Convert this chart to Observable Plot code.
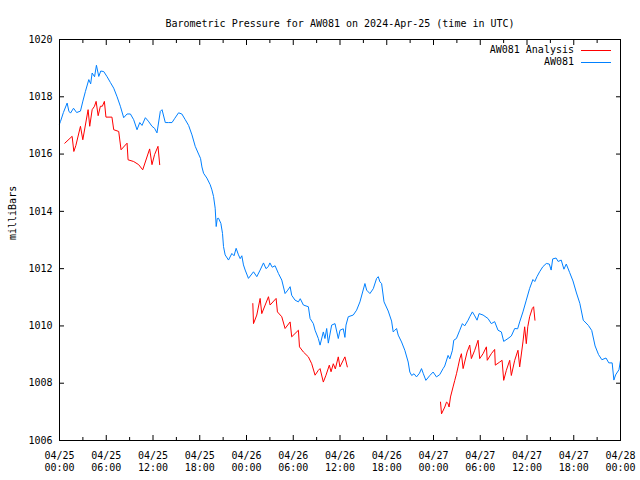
<!DOCTYPE html>
<html><head><meta charset="utf-8">
<script src="https://cdn.jsdelivr.net/npm/d3@7"></script>
<script src="https://cdn.jsdelivr.net/npm/@observablehq/plot@0.6"></script>
<style>
body{margin:0;background:#fff;}
#wrap{position:relative;width:640px;height:480px;font-family:"DejaVu Sans Mono",monospace;font-size:10px;color:#000;}
.lg{position:absolute;right:66px;white-space:pre;line-height:12px;}
.sw{position:absolute;left:581px;width:30px;height:0;border-top:1px solid;}
</style></head><body><div id="wrap"></div>
<script>
const titleText = "Barometric Pressure for AW081 on 2024-Apr-25 (time in UTC)";
const yLabel = "milliBars";
const seriesNames = ["AW081 Analysis", "AW081"];
const seriesColors = ["#ff0000", "#0080ff"];
const startUTC = Date.UTC(2024, 3, 25);
const yTicks = [1006, 1008, 1010, 1012, 1014, 1016, 1018, 1020];
const xMajorHours = [0, 6, 12, 18, 24, 30, 36, 42, 48, 54, 60, 66, 72];
const xMinorHours = [3, 9, 15, 21, 27, 33, 39, 45, 51, 57, 63, 69];

const stationHours = [0.0,0.13,0.5,0.98,1.2,1.41,1.8,2.2,2.69,3.0,3.33,3.76,4.0,4.19,4.5,4.74,5.04,5.3,5.68,6.11,6.53,6.96,7.39,7.81,8.24,8.67,9.1,9.52,9.95,10.3,10.59,11.02,11.4,11.87,12.2,12.51,12.94,13.16,13.58,14.0,14.44,14.8,15.28,15.7,16.14,16.57,17.0,17.42,17.85,18.1,18.28,18.49,18.92,19.34,19.56,19.77,19.98,20.11,20.25,20.41,20.71,20.92,21.05,21.26,21.69,22.12,22.4,22.67,22.97,23.19,23.4,23.61,23.83,24.25,24.9,25.32,25.75,26.18,26.5,26.8,27.0,27.3,27.67,28.1,28.53,28.95,29.3,29.6,29.8,30.23,30.66,30.9,31.3,31.94,32.16,32.58,32.8,33.22,33.44,33.86,34.07,34.29,34.5,34.93,35.36,35.78,36.0,36.42,36.63,36.77,37.06,37.7,38.13,38.56,39.2,39.42,39.84,40.27,40.7,40.91,41.12,41.34,41.65,42.19,42.62,42.83,43.04,43.26,43.47,43.9,44.32,44.75,44.96,45.2,45.5,45.82,46.2,46.46,46.7,47.02,47.53,47.95,48.38,48.8,49.23,49.44,49.87,50.1,50.43,50.6,50.94,51.37,51.71,52.0,52.44,52.65,52.99,53.3,53.59,53.85,54.36,54.99,55.42,55.85,56.28,56.71,57.01,57.56,57.99,58.42,58.8,59.06,59.48,59.91,60.34,60.76,61.0,61.28,61.62,62.04,62.48,62.86,63.1,63.3,63.73,64.0,64.39,64.74,65.04,65.48,65.9,66.35,66.78,67.22,67.87,68.31,68.74,69.18,69.61,70.14,70.5,70.93,71.15,71.37,71.8,72.0];
const stationPressure = [1017.05,1017.14,1017.45,1017.78,1017.5,1017.43,1017.6,1017.45,1017.5,1017.85,1018.19,1018.6,1018.45,1018.83,1018.7,1019.1,1018.71,1018.9,1018.88,1018.7,1018.5,1018.3,1018.0,1017.67,1017.27,1017.4,1017.4,1017.2,1016.85,1017.1,1017.0,1017.27,1017.15,1016.97,1016.9,1016.74,1017.49,1017.55,1017.1,1017.1,1017.1,1017.25,1017.44,1017.4,1017.2,1017.0,1016.67,1016.27,1016.0,1015.85,1015.55,1015.33,1015.16,1014.93,1014.75,1014.52,1014.11,1013.47,1013.75,1013.76,1013.58,1013.23,1012.77,1012.48,1012.3,1012.53,1012.45,1012.71,1012.48,1012.35,1012.45,1012.13,1011.95,1011.66,1011.89,1011.72,1011.95,1012.2,1012.0,1012.07,1012.2,1012.05,1012.1,1011.83,1011.6,1011.13,1011.25,1011.37,1011.07,1010.9,1010.84,1010.95,1010.73,1010.67,1010.26,1010.08,1009.85,1009.56,1009.33,1009.79,1009.56,1009.91,1009.4,1010.03,1010.08,1009.56,1009.85,1009.9,1009.6,1010.03,1010.32,1010.38,1010.55,1010.84,1011.48,1011.25,1011.13,1011.3,1011.66,1011.72,1011.54,1011.48,1010.84,1010.52,1010.17,1009.79,1009.85,1009.91,1009.68,1009.44,1009.15,1008.74,1008.39,1008.27,1008.33,1008.22,1008.35,1008.51,1008.33,1008.1,1008.27,1008.39,1008.22,1008.3,1008.51,1008.6,1008.97,1008.85,1009.15,1009.5,1009.56,1009.85,1010.08,1010.0,1010.2,1010.32,1010.49,1010.35,1010.2,1010.43,1010.38,1010.26,1010.08,1010.15,1009.85,1009.79,1009.46,1009.56,1009.65,1009.91,1009.9,1010.14,1010.49,1010.9,1011.31,1011.62,1011.55,1011.72,1011.89,1012.07,1012.18,1012.16,1011.95,1012.34,1012.37,1012.25,1012.3,1011.98,1012.16,1011.86,1011.57,1011.15,1010.79,1010.2,1010.02,1009.84,1009.3,1009.0,1008.82,1008.88,1008.71,1008.71,1008.11,1008.29,1008.47,1008.8];

const analysisHours = [0.68,1.62,1.84,2.1,2.69,2.99,3.67,3.88,4.19,4.49,4.7,4.96,5.25,5.5,5.76,5.96,6.73,6.96,7.6,7.9,8.67,8.8,9.52,10.16,10.68,11.57,11.87,12.2,12.64,12.86,
24.81,24.9,25.32,25.75,25.96,26.82,27.03,27.8,27.97,28.53,28.95,29.6,29.8,30.66,30.8,31.3,31.94,32.37,32.8,33.22,33.44,33.86,34.2,34.63,34.85,35.14,35.4,35.78,35.99,36.63,36.94,
48.9,49.03,49.45,49.67,49.85,50.0,50.18,50.51,50.73,50.95,51.15,51.37,51.58,51.8,52.31,52.65,52.86,53.29,53.72,53.93,54.36,54.79,54.9,55.42,55.85,55.93,56.5,56.8,57.01,57.35,57.78,57.99,58.42,58.84,59.06,59.48,59.7,59.91,60.1,60.34,60.68,60.85,61.02];
const analysisPressure = [1016.38,1016.62,1016.09,1016.3,1016.97,1016.5,1017.55,1016.97,1017.55,1017.67,1017.84,1017.34,1017.67,1017.67,1017.84,1017.29,1017.29,1016.85,1016.79,1016.15,1016.38,1015.8,1015.74,1015.63,1015.45,1016.18,1015.63,1015.98,1016.27,1015.63,
1010.78,1010.08,1010.38,1010.96,1010.43,1011.02,1010.73,1010.96,1010.49,1010.32,1009.91,1010.14,1009.62,1009.85,1009.27,1009.09,1008.92,1008.68,1008.28,1008.45,1008.51,1008.04,1008.28,1008.63,1008.4,1008.68,1008.5,1008.92,1008.57,1008.92,1008.57,
1007.34,1006.93,1007.17,1007.34,1007.3,1007.17,1007.52,1007.87,1008.1,1008.33,1008.57,1008.85,1009.03,1008.51,1009.09,1009.33,1008.86,1009.15,1009.5,1008.86,1009.03,1009.27,1008.8,1009.03,1009.18,1008.63,1008.74,1008.8,1008.1,1008.45,1008.8,1008.27,1008.8,1009.15,1008.57,1009.44,1009.97,1009.38,1009.97,1010.32,1010.61,1010.67,1010.2];
const analysisRunLengths = [30, 31, 43];

const at = h => new Date(startUTC + h * 3600000);
const station = stationHours.map((h, i) => ({t: at(h), p: stationPressure[i]}));
const runIds = analysisRunLengths.flatMap((n, k) => Array(n).fill(k));
const analysis = analysisHours.map((h, i) => ({t: at(h), p: analysisPressure[i], run: runIds[i]}));
const xMajor = xMajorHours.map(at);
const xMinor = xMinorHours.map(at);
const none = () => "";

const chart = Plot.plot({
  width: 640, height: 480,
  marginLeft: 59, marginRight: 20, marginTop: 39, marginBottom: 40,
  style: {fontFamily: '"DejaVu Sans Mono", monospace', fontSize: "10px", color: "black", background: "white"},
  x: {type: "utc", domain: [at(0), at(72)]},
  y: {domain: [1006, 1020]},
  marks: [
    Plot.axisY(yTicks, {anchor: "left", tickSize: 0, tickPadding: 7, tickFormat: d => String(d), label: null}),
    Plot.axisX(xMajor, {anchor: "bottom", tickSize: 0, tickPadding: 10, tickFormat: d3.utcFormat("%m/%d\n%H:%M"), lineHeight: 1.2, label: null}),
    Plot.axisY(yTicks, {anchor: "left", tickSize: 5, dx: 5, tickFormat: none, label: null}),
    Plot.axisY(yTicks, {anchor: "right", tickSize: 5, dx: -5, tickFormat: none, label: null}),
    Plot.axisX(xMajor, {anchor: "bottom", tickSize: 5, dy: -5, tickFormat: none, label: null}),
    Plot.axisX(xMinor, {anchor: "bottom", tickSize: 3, dy: -3, tickFormat: none, label: null}),
    Plot.axisX(xMajor, {anchor: "top", tickSize: 5, dy: 5, tickFormat: none, label: null}),
    Plot.axisX(xMinor, {anchor: "top", tickSize: 3, dy: 3, tickFormat: none, label: null}),
    Plot.line(station, {x: "t", y: "p", stroke: seriesColors[1], strokeWidth: 1}),
    Plot.line(analysis, {x: "t", y: "p", z: "run", stroke: seriesColors[0], strokeWidth: 1}),
    Plot.frame({stroke: "black"}),
    Plot.text([titleText], {frameAnchor: "top", dy: -20}),
    Plot.text([yLabel], {frameAnchor: "left", rotate: -90, dx: -47})
  ]
});
const wrap = document.getElementById("wrap");
wrap.appendChild(chart);
seriesNames.forEach((name, i) => {
  const t = document.createElement("div");
  t.className = "lg"; t.textContent = name; t.style.top = (44 + 12 * i) + "px";
  wrap.appendChild(t);
  const s = document.createElement("div");
  s.className = "sw"; s.style.borderTopColor = seriesColors[i]; s.style.top = (50 + 12 * i) + "px";
  wrap.appendChild(s);
});
</script></body></html>
